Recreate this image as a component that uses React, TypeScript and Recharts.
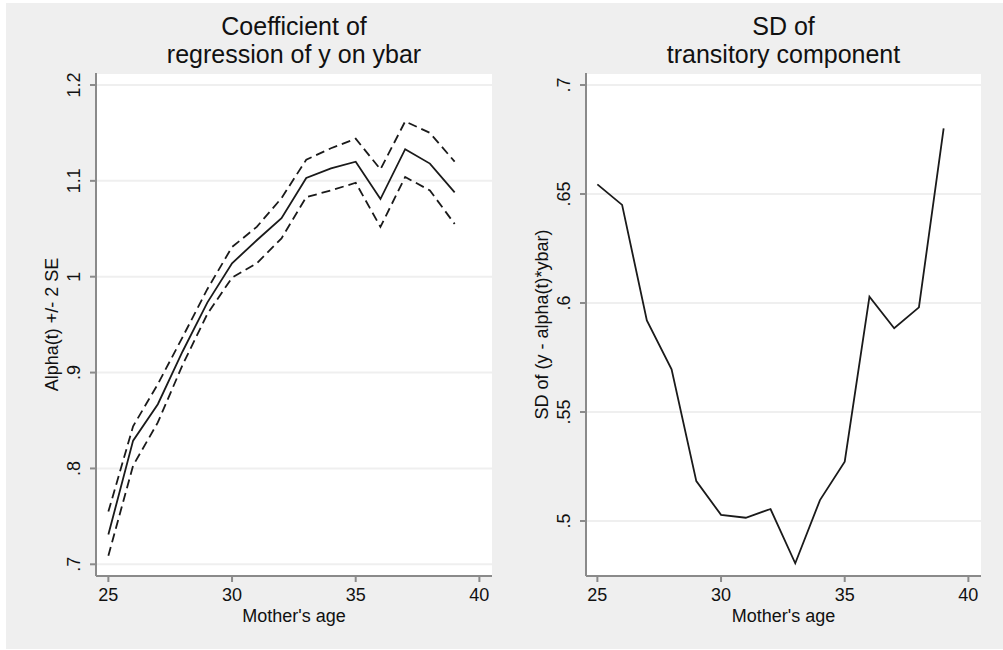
import { LineChart, Line, XAxis, YAxis, CartesianGrid } from "recharts";

const ages = [25, 26, 27, 28, 29, 30, 31, 32, 33, 34, 35, 36, 37, 38, 39];
const alpha = [0.731, 0.829, 0.867, 0.922, 0.973, 1.014, 1.038, 1.061, 1.103, 1.113, 1.12, 1.081, 1.133, 1.118, 1.088];
const alphaHi = [0.755, 0.844, 0.888, 0.937, 0.987, 1.031, 1.052, 1.082, 1.122, 1.134, 1.144, 1.112, 1.162, 1.15, 1.12];
const alphaLo = [0.709, 0.803, 0.848, 0.908, 0.961, 0.999, 1.014, 1.04, 1.083, 1.09, 1.098, 1.052, 1.104, 1.09, 1.055];
const sdTrans = [0.6544, 0.645, 0.592, 0.5696, 0.5183, 0.5028, 0.5015, 0.5055, 0.4806, 0.5096, 0.5272, 0.6029, 0.5884, 0.598, 0.6801];

const xTicks = [25, 30, 35, 40];
const alphaTicks = [0.7, 0.8, 0.9, 1, 1.1, 1.2];
const sdTicks = [0.5, 0.55, 0.6, 0.65, 0.7];

const rows = ages.map((age, i) => ({
  age,
  alpha: alpha[i],
  hi: alphaHi[i],
  lo: alphaLo[i],
  sd: sdTrans[i],
}));

const FONT = "'Liberation Sans', Arial, Helvetica, sans-serif";
const INK = "#111";
const AXIS = "#8a8a8a";
const BG = "#efefef";
const LINE = "#1a1a1a";

// stata style: .7 instead of 0.7
const fmt = (v: number) => String(+v.toFixed(2)).replace(/^0\./, ".");

const XTick = (p: any) => (
  <text x={p.x} y={p.y + 17} textAnchor="middle" fontSize={18} fill={INK} fontFamily={FONT}>
    {p.payload.value}
  </text>
);

const YTick = (p: any) => {
  const x = p.x - 8;
  return (
    <text
      x={x}
      y={p.y}
      transform={`rotate(-90, ${x}, ${p.y})`}
      textAnchor="middle"
      fontSize={18}
      fill={INK}
      fontFamily={FONT}
    >
      {fmt(p.payload.value)}
    </text>
  );
};

const xLabel = (text: string) => ({
  content: ({ viewBox }: any) => (
    <text
      x={viewBox.x + viewBox.width / 2}
      y={viewBox.y + 46}
      textAnchor="middle"
      fontSize={18}
      fill={INK}
      fontFamily={FONT}
    >
      {text}
    </text>
  ),
});

const yLabel = (text: string) => ({
  content: ({ viewBox }: any) => {
    const x = viewBox.x + viewBox.width - 38;
    const y = viewBox.y + viewBox.height / 2;
    return (
      <text
        x={x}
        y={y}
        transform={`rotate(-90, ${x}, ${y})`}
        textAnchor="middle"
        fontSize={18}
        fill={INK}
        fontFamily={FONT}
      >
        {text}
      </text>
    );
  },
});

function Panel(props: {
  left: number;
  width: number;
  right: number;
  yDomain: [number, number];
  yTicks: number[];
  xDomain: [number, number];
  yTitle: string;
  children: any;
}) {
  return (
    <div style={{ position: "absolute", left: props.left, top: 0 }}>
      <LineChart
        width={props.width}
        height={650}
        data={rows}
        margin={{ top: 73, right: props.right, bottom: 14, left: 0 }}
      >
        <CartesianGrid horizontal vertical={false} fill="#fff" stroke={BG} strokeWidth={2} />
        <XAxis
          dataKey="age"
          type="number"
          domain={props.xDomain}
          ticks={xTicks}
          allowDataOverflow
          height={60}
          tickSize={6}
          axisLine={{ stroke: AXIS, strokeWidth: 2 }}
          tickLine={{ stroke: AXIS, strokeWidth: 2 }}
          tick={XTick}
          label={xLabel("Mother's age")}
        />
        <YAxis
          type="number"
          domain={props.yDomain}
          ticks={props.yTicks}
          allowDataOverflow
          width={96}
          tickSize={6}
          axisLine={{ stroke: AXIS, strokeWidth: 2 }}
          tickLine={{ stroke: AXIS, strokeWidth: 2 }}
          tick={YTick}
          label={yLabel(props.yTitle)}
        />
        {props.children}
      </LineChart>
    </div>
  );
}

export default function App() {
  return (
    <div
      style={{
        position: "absolute",
        left: 0,
        top: 0,
        width: 1003,
        height: 650,
        background: "#fff",
        fontFamily: FONT,
      }}
    >
      <div style={{ position: "absolute", left: 6, top: 3, width: 997, height: 646, background: BG }} />

      <Panel
        left={0}
        width={500}
        right={8}
        xDomain={[24.5, 40.51]}
        yDomain={[0.6878, 1.2125]}
        yTicks={alphaTicks}
        yTitle="Alpha(t) +/- 2 SE"
      >
        <Line dataKey="hi" stroke={LINE} strokeWidth={1.8} strokeDasharray="9 5" dot={false} isAnimationActive={false} />
        <Line dataKey="alpha" stroke={LINE} strokeWidth={1.8} dot={false} isAnimationActive={false} />
        <Line dataKey="lo" stroke={LINE} strokeWidth={1.8} strokeDasharray="9 5" dot={false} isAnimationActive={false} />
      </Panel>

      <Panel
        left={490}
        width={513}
        right={22}
        xDomain={[24.54, 40.51]}
        yDomain={[0.47477, 0.7055]}
        yTicks={sdTicks}
        yTitle="SD of (y - alpha(t)*ybar)"
      >
        <Line dataKey="sd" stroke={LINE} strokeWidth={1.8} dot={false} isAnimationActive={false} />
      </Panel>

      <svg
        width={1003}
        height={80}
        style={{ position: "absolute", left: 0, top: 0, pointerEvents: "none" }}
      >
        <g fontFamily={FONT} fontSize={25} fill={INK} textAnchor="middle">
          <text x={294} y={35}>Coefficient of</text>
          <text x={294} y={63}>regression of y on ybar</text>
          <text x={783.5} y={35}>SD of</text>
          <text x={783.5} y={63}>transitory component</text>
        </g>
      </svg>
    </div>
  );
}
